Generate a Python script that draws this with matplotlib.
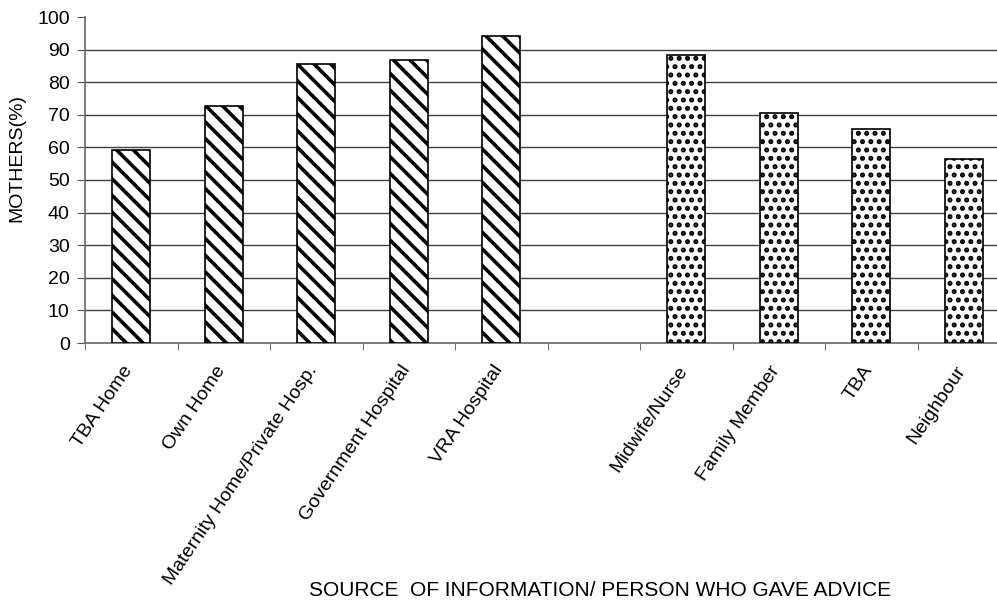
import numpy as np
import matplotlib
matplotlib.use("Agg")
import matplotlib.pyplot as plt

plt.rcParams['font.family'] = ['Liberation Sans', 'DejaVu Sans']

place_labels = ['TBA Home', 'Own Home', 'Maternity Home/Private Hosp.',
                'Government Hospital', 'VRA Hospital']
place_values = [59.2, 72.7, 85.6, 86.7, 94.2]

advice_labels = ['Midwife/Nurse', 'Family Member', 'TBA', 'Neighbour']
advice_values = [88.3, 70.6, 65.5, 56.3]

xlabel = 'SOURCE  OF INFORMATION/ PERSON WHO GAVE ADVICE'
ylabel = 'MOTHERS(%)'

fs = 14

fig = plt.figure(figsize=(9.97, 6.01), dpi=100)
ax = fig.add_axes([85 / 997, 1 - 343 / 601, 925 / 997, 326 / 601])

x_place = np.arange(len(place_labels))
x_advice = np.arange(len(advice_labels)) + len(place_labels) + 1

# stripes for place of delivery
plt.rcParams['hatch.linewidth'] = 2.6
ax.bar(x_place, place_values, width=0.41, color='white', edgecolor='black',
       linewidth=1.2, hatch='\\\\', zorder=3)
# dots for person who gave advice
plt.rcParams['hatch.linewidth'] = 2.4
ax.bar(x_advice, advice_values, width=0.41, color='white', edgecolor='black',
       linewidth=1.2, hatch='..', zorder=3)

ax.set_xlim(-0.5, 9.5)
ax.set_ylim(0, 100)
ax.set_yticks(np.arange(0, 101, 10))
for y in range(10, 100, 10):
    ax.axhline(y, color='#404040', linewidth=1, zorder=1)

# labels sit a little left of the bar centres, as in the original
label_pos = np.concatenate([x_place, x_advice]) - 0.1
ax.set_xticks(label_pos)
ax.set_xticklabels(place_labels + advice_labels, rotation=56, ha='right',
                   va='top', rotation_mode='anchor', fontsize=fs)
ax.tick_params(axis='x', which='major', length=0, pad=14)
ax.set_xticks(np.arange(-0.5, 10, 1), minor=True)
ax.tick_params(axis='x', which='minor', length=5, color='#555555')
ax.tick_params(axis='y', length=6, color='#555555', labelsize=fs, pad=5)

for side in ['top', 'right']:
    ax.spines[side].set_visible(False)
for side in ['left', 'bottom']:
    ax.spines[side].set_color('#666666')
    ax.spines[side].set_linewidth(1.2)

fig.text(600 / 997, 1 - 590 / 601, xlabel, ha='center', va='center', fontsize=15)
fig.text(17 / 997, 1 - 158 / 601, ylabel, ha='center', va='center',
         rotation=90, fontsize=fs)

fig.savefig('out.png', dpi=100)
